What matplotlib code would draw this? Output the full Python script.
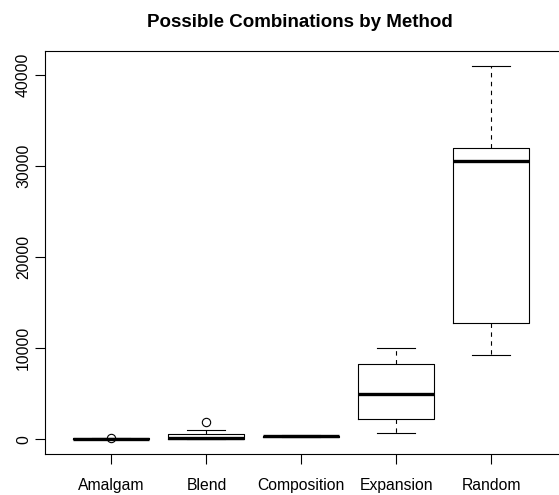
import matplotlib
matplotlib.use("Agg")
import matplotlib.pyplot as plt

plt.rcParams['font.family'] = ['Liberation Sans', 'DejaVu Sans']

methods = ["Amalgam", "Blend", "Composition", "Expansion", "Random"]
whislo = [0, 0, 180, 620, 9230]
q1 = [20, 40, 230, 2160, 12780]
med = [40, 170, 290, 4945, 30580]
q3 = [70, 550, 360, 8270, 32000]
whishi = [120, 990, 420, 10000, 41000]
fliers = [[100], [1900], [], [], []]
yticks = [0, 10000, 20000, 30000, 40000]

stats = []
for i, m in enumerate(methods):
    stats.append(dict(label=m, whislo=whislo[i], q1=q1[i], med=med[i],
                      q3=q3[i], whishi=whishi[i], fliers=fliers[i]))

fig = plt.figure(figsize=(5.59, 4.95), dpi=100)
ax = fig.add_axes([0.0805, 0.0828, 1.02 - 0.0805, 0.897 - 0.0828])

positions = list(range(1, len(methods) + 1))
ax.bxp(stats, positions=positions, widths=0.8, showfliers=True,
       boxprops=dict(color='black', linewidth=0.8),
       medianprops=dict(color='black', linewidth=2.4, solid_capstyle='butt'),
       whiskerprops=dict(color='black', linewidth=0.8, linestyle=(0, (4, 4))),
       capprops=dict(color='black', linewidth=0.8),
       flierprops=dict(marker='o', markerfacecolor='none', markeredgecolor='black',
                       markersize=6, markeredgewidth=0.8),
       capwidths=0.4)

allmax = max(max(whishi), max(max(f) if f else 0 for f in fliers))
allmin = 0
rng = allmax - allmin
ax.set_ylim(allmin - 0.04 * rng, allmax + 0.04 * rng)
ax.set_xlim(0.3, 5.83)

ax.set_xticks(positions)
ax.set_xticklabels(methods, fontsize=11.3)
ax.set_yticks(yticks)
ax.set_yticklabels([str(v) for v in yticks], fontsize=11.3, rotation=90, va='center')
ax.tick_params(direction='out', length=7, width=0.8)
ax.tick_params(axis='x', pad=10)
ax.tick_params(axis='y', pad=3)
for s in ax.spines.values():
    s.set_linewidth(0.8)

fig.text(0.0805 + (0.993 - 0.0805) / 2, 0.955, "Possible Combinations by Method",
         fontsize=13.5, fontweight='bold', ha='center', va='center')

fig.savefig("out.png", dpi=100)
